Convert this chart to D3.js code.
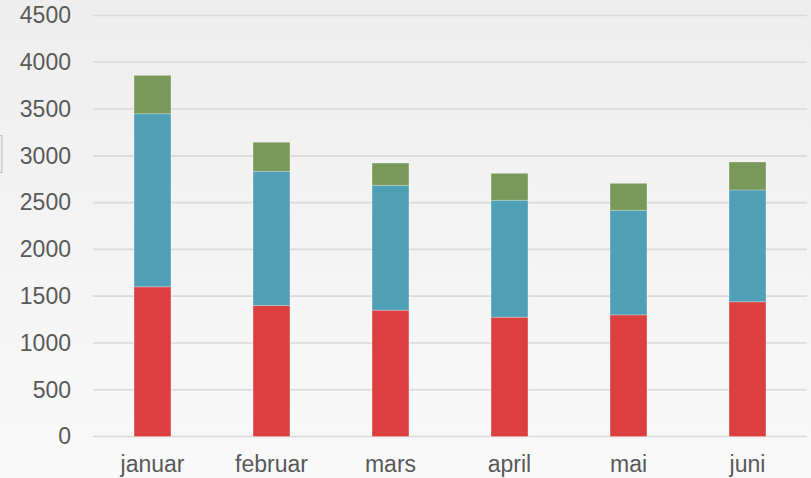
<!DOCTYPE html>
<html lang="no">
<head>
  <meta charset="UTF-8" />
  <title>Stablet stolpediagram</title>
  <style>
    html, body { margin: 0; padding: 0; }
    body { width: 811px; height: 478px; overflow: hidden; }
    text { font-family: "Liberation Sans", Arial, sans-serif; fill: #595959; }
  </style>
  <script src="https://d3js.org/d3.v7.min.js"></script>
</head>
<body>
  <svg id="chart" width="811" height="478"></svg>

  <script>
    const months = ['januar', 'februar', 'mars', 'april', 'mai', 'juni'];
    const seriesRed = [1600, 1400, 1350, 1275, 1300, 1440];
    const seriesBlue = [1850, 1435, 1335, 1250, 1118, 1195];
    const seriesGreen = [410, 310, 238, 288, 288, 299];
    const yTicks = [0, 500, 1000, 1500, 2000, 2500, 3000, 3500, 4000, 4500];
    const colors = ['#db3f3e', '#4fa0b7', '#79995a'];

    const width = 811, height = 478;
    const margin = { top: 15.5, right: 4, bottom: 41.5, left: 93 };

    const svg = d3.select('#chart');

    // soft background gradient
    const grad = svg.append('defs').append('linearGradient')
      .attr('id', 'bg').attr('x1', 0).attr('y1', 0).attr('x2', 0).attr('y2', 1);
    grad.append('stop').attr('offset', '0%').attr('stop-color', '#eeeeee');
    grad.append('stop').attr('offset', '100%').attr('stop-color', '#f9f9f9');
    svg.append('rect').attr('width', width).attr('height', height).attr('fill', 'url(#bg)');

    // small handle at left edge
    svg.append('rect')
      .attr('x', -4).attr('y', 135.5).attr('width', 6).attr('height', 37)
      .attr('fill', '#eeeeee').attr('stroke', '#bdbdbd');

    const rows = months.map((m, i) => ({
      month: m, red: seriesRed[i], blue: seriesBlue[i], green: seriesGreen[i]
    }));
    const stack = d3.stack().keys(['red', 'blue', 'green'])(rows);

    const x = d3.scaleBand()
      .domain(months)
      .range([margin.left, width - margin.right])
      .paddingInner(0.69)
      .paddingOuter(0.345);

    const y = d3.scaleLinear()
      .domain([0, 4500])
      .range([height - margin.bottom, margin.top]);

    // gridlines
    svg.append('g')
      .selectAll('line')
      .data(yTicks)
      .join('line')
      .attr('x1', margin.left)
      .attr('x2', width - margin.right)
      .attr('y1', d => y(d))
      .attr('y2', d => y(d))
      .attr('stroke', '#d9d9d9')
      .attr('stroke-width', 1.6);

    // y axis labels
    const yAxis = svg.append('g')
      .attr('transform', `translate(${margin.left},0)`)
      .call(d3.axisLeft(y).tickValues(yTicks).tickFormat(d3.format('d')).tickSize(0).tickPadding(22));
    yAxis.select('.domain').remove();
    yAxis.selectAll('text')
      .attr('font-size', '23px')
      .attr('fill', '#595959')
      .attr('font-family', '"Liberation Sans", Arial, sans-serif');

    // bars
    svg.append('g')
      .selectAll('g')
      .data(stack)
      .join('g')
      .attr('fill', (d, i) => colors[i])
      .selectAll('rect')
      .data(d => d)
      .join('rect')
      .attr('x', d => x(d.data.month))
      .attr('width', x.bandwidth())
      .attr('y', d => y(d[1]))
      .attr('height', d => y(d[0]) - y(d[1]))
      .attr('stroke', 'rgba(255,255,255,0.25)')
      .attr('stroke-width', 1);

    // x axis labels
    const xAxis = svg.append('g')
      .attr('transform', `translate(0,${height - margin.bottom})`)
      .call(d3.axisBottom(x).tickSize(0).tickPadding(19));
    xAxis.select('.domain').remove();
    xAxis.selectAll('text')
      .attr('font-size', '23px')
      .attr('fill', '#595959')
      .attr('font-family', '"Liberation Sans", Arial, sans-serif');
  </script>
</body>
</html>
